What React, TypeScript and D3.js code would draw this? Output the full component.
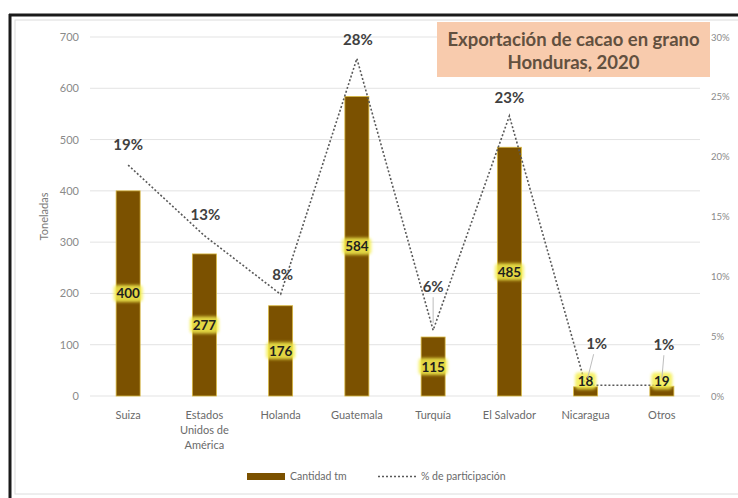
import React from "react";
import * as d3 from "d3";

const categories = ["Suiza", "Estados Unidos de América", "Holanda", "Guatemala", "Turquía", "El Salvador", "Nicaragua", "Otros"];
const categoryLines = [["Suiza"], ["Estados", "Unidos de", "América"], ["Holanda"], ["Guatemala"], ["Turquía"], ["El Salvador"], ["Nicaragua"], ["Otros"]];
const cantidad = [400, 277, 176, 584, 115, 485, 18, 19];
const participacion = [19.3, 13.4, 8.5, 28.2, 5.5, 23.4, 0.9, 0.9];
const pctLabels = ["19%", "13%", "8%", "28%", "6%", "23%", "1%", "1%"];
const leftTicks = [0, 100, 200, 300, 400, 500, 600, 700];
const rightTicks = [0, 5, 10, 15, 20, 25, 30];

// layout-only offsets for percentage labels (dx, dy of label centre relative to point)
const pctOffsets: [number, number][] = [[0, -21], [1, -21], [2, -20], [1, -19], [0, -44], [0, -18], [11, -42], [2, -41]];
const leaderLines = [false, false, false, false, true, false, true, true];

const W = 738, H = 498;
const X0 = 90, X1 = 700, YT = 37, YB = 396;
const FONT = "Lato, 'Open Sans', sans-serif";

export default function App() {
  const x = d3.scaleBand<string>().domain(categories).range([X0, X1]).paddingInner(0.685).paddingOuter(0.3425);
  const y = d3.scaleLinear().domain([0, 700]).range([YB, YT]);
  const y2 = d3.scaleLinear().domain([0, 30]).range([YB, YT]);
  const cx = (c: string) => (x(c) as number) + x.bandwidth() / 2;
  const line = d3.line<number>().x((_, i) => cx(categories[i])).y((d) => y2(d));

  return (
    <svg width={W} height={H} style={{ position: "absolute", left: 0, top: 0, background: "#fff" }} fontFamily={FONT}>
      <defs>
        <filter id="glow" x="-30%" y="-30%" width="160%" height="160%">
          <feGaussianBlur stdDeviation="1.6" />
        </filter>
      </defs>
      <rect x={0} y={0} width={W} height={H} fill="#fff" />
      {/* inner frame */}
      <rect x={15} y={20} width={730} height={474} fill="none" stroke="#dcdcdc" strokeWidth={1} />
      {/* outer thick border */}
      <line x1={9} y1={15} x2={W} y2={15} stroke="#1a1a1a" strokeWidth={3} />
      <line x1={10} y1={14} x2={10} y2={H} stroke="#1a1a1a" strokeWidth={3} />

      {/* gridlines */}
      {leftTicks.map((t) => (
        <line key={t} x1={X0} x2={X1} y1={y(t)} y2={y(t)} stroke="#e3e3e3" strokeWidth={1} />
      ))}
      {/* left ticks */}
      {leftTicks.map((t) => (
        <text key={t} x={79} y={y(t) + 4} textAnchor="end" fontSize={11} fill="#8a8a8a">{t}</text>
      ))}
      {/* right ticks */}
      {rightTicks.map((t) => (
        <text key={t} x={711} y={y2(t) + 3.5} textAnchor="start" fontSize={9.5} fill="#8a8a8a">{t}%</text>
      ))}
      <text transform={`translate(48,${(YT + YB) / 2}) rotate(-90)`} textAnchor="middle" fontSize={11} fill="#7a7a7a">Toneladas</text>

      {/* title */}
      <rect x={437} y={22} width={273} height={55} fill="#F8CBAD" />
      <text x={573.5} y={46} textAnchor="middle" fontSize={18.5} fontWeight="bold" fill="#62503f">Exportación de cacao en grano</text>
      <text x={573.5} y={69} textAnchor="middle" fontSize={18.5} fontWeight="bold" fill="#62503f">Honduras, 2020</text>

      {/* bars */}
      {categories.map((c, i) => (
        <rect key={c} x={x(c)} y={y(cantidad[i])} width={x.bandwidth()} height={YB - y(cantidad[i])} fill="#7B5100" stroke="#d8b840" strokeWidth={0.8} />
      ))}

      {/* line */}
      <path d={line(participacion) || ""} fill="none" stroke="#595959" strokeWidth={1.6} strokeDasharray="2,2" />

      {/* bar value labels */}
      {categories.map((c, i) => {
        const mid = (y(cantidad[i]) + YB) / 2;
        const ly = Math.min(mid, YB - 15);
        const txt = String(cantidad[i]);
        const w = txt.length * 8 + 5;
        return (
          <g key={c}>
            <rect x={cx(c) - w / 2} y={ly - 8.5} width={w} height={17} rx={4} fill="#f4ee50" opacity={0.85} filter="url(#glow)" />
            <text x={cx(c)} y={ly + 5} textAnchor="middle" fontSize={13.5} fontWeight="bold" fill="#1e1e1e">{txt}</text>
          </g>
        );
      })}

      {/* percentage labels */}
      {categories.map((c, i) => {
        const px = cx(c), py = y2(participacion[i]);
        const [dx, dy] = pctOffsets[i];
        const lx = px + dx, ly = py + dy;
        return (
          <g key={c}>
            {leaderLines[i] && (
              <line x1={lx - (dx > 5 ? 3 : 0)} y1={ly + 11} x2={px + (dx > 5 ? 2 : 0)} y2={py - 7} stroke="#bdbdbd" strokeWidth={1} />
            )}
            <text x={lx} y={ly + 5.5} textAnchor="middle" fontSize={15} fontWeight="bold" fill="#404040">{pctLabels[i]}</text>
          </g>
        );
      })}

      {/* x labels */}
      {categories.map((c, i) => (
        <text key={c} x={cx(c)} y={419} textAnchor="middle" fontSize={11} fill="#6a6a6a">
          {categoryLines[i].map((l, j) => (
            <tspan key={j} x={cx(c)} dy={j === 0 ? 0 : 15}>{l}</tspan>
          ))}
        </text>
      ))}

      {/* legend */}
      <rect x={247} y={473} width={38} height={7} fill="#7B5100" />
      <text x={290} y={480} fontSize={10.5} fill="#6a6a6a">Cantidad tm</text>
      <line x1={378} x2={417} y1={476.5} y2={476.5} stroke="#595959" strokeWidth={1.4} strokeDasharray="2,2" />
      <text x={421} y={480} fontSize={10.5} fill="#6a6a6a">% de participación</text>
    </svg>
  );
}
